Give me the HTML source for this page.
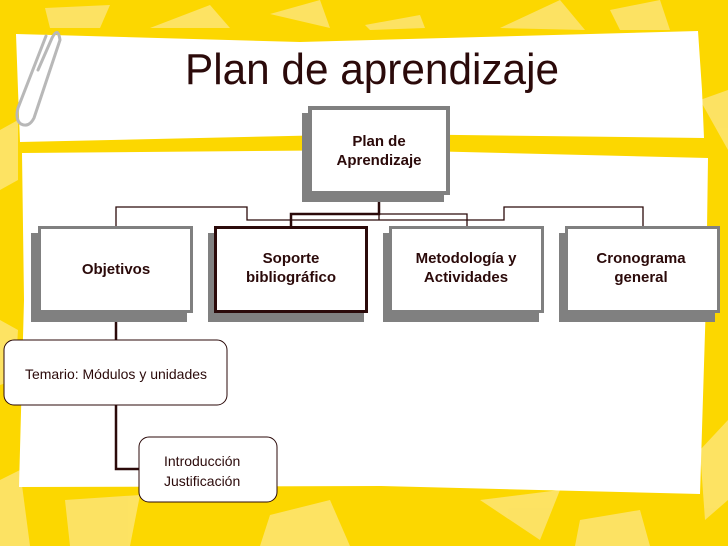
<!DOCTYPE html>
<html><head><meta charset="utf-8"><style>
html,body{margin:0;padding:0;width:728px;height:546px;overflow:hidden;background:#fcd800}
</style></head><body>
<svg width="728" height="546" viewBox="0 0 728 546" xmlns="http://www.w3.org/2000/svg" font-family="Liberation Sans, sans-serif">
<rect width="728" height="546" fill="#fcd700"/>
<g fill="#fde46e" opacity="0.9">
<polygon points="45,8 110,5 100,28 50,28"/>
<polygon points="150,28 210,5 230,28"/>
<polygon points="270,14 320,0 330,28"/>
<polygon points="365,25 420,15 425,28 370,30"/>
<polygon points="500,28 560,0 585,30"/>
<polygon points="610,10 660,0 670,30 620,30"/>
<polygon points="700,100 728,90 728,150"/>
<polygon points="0,130 18,120 18,180 0,190"/>
<polygon points="0,480 20,470 30,546 0,546"/>
<polygon points="65,500 140,495 130,546 70,546"/>
<polygon points="270,515 330,500 350,546 260,546"/>
<polygon points="480,500 560,490 540,540"/>
<polygon points="580,520 640,510 650,546 575,546"/>
<polygon points="700,450 728,420 728,500 705,520"/>
<polygon points="0,320 18,330 15,380 0,385"/>
</g>
<polygon points="16,34 300,42 698,31 702,90 704,138 380,134 20,142 18,90" fill="#fff"/>
<polygon points="22,153 380,150 708,158 706,300 700,494 380,486 19,487 24,300" fill="#fff"/>
<g fill="none" stroke="#b8b8b8" stroke-width="3" stroke-linecap="round">
<path d="M38,70 L52,38 Q58,26 60,40 L34,118 Q29,128 21,124 Q15,120 18,108 L46,36"/>
</g>
<text x="372" y="84" font-size="44" fill="#2b0a0a" text-anchor="middle" textLength="374" lengthAdjust="spacingAndGlyphs">Plan de aprendizaje</text>
<g fill="none" stroke="#2b0a0a" stroke-width="1.3">
<polyline points="116,226 116,207 247,207 247,220 504,220 504,207 643,207 643,226"/>
<polyline points="379,214 467,214 467,226"/>
<line x1="379" y1="214" x2="379" y2="220"/>
</g>
<g fill="none" stroke="#2b0a0a" stroke-width="2.5">
<polyline points="379,195 379,214 291,214 291,226"/>
<polyline points="116,308 116,340"/>
<polyline points="116,405 116,469 139,469"/>
</g>
<rect x="302" y="113" width="142" height="89" fill="#808080"/>
<rect x="308" y="106" width="142" height="89" fill="#808080"/>
<rect x="312" y="110" width="134" height="81" fill="#fff"/>
<g font-weight="bold" font-size="15" fill="#2b0a0a" text-anchor="middle">
<text x="379" y="146">Plan de</text>
<text x="379" y="165">Aprendizaje</text>
</g>
<g>
<rect x="31" y="233" width="156" height="89" fill="#808080"/>
<rect x="38" y="226" width="155" height="87" fill="#808080"/>
<rect x="41" y="229" width="149" height="81" fill="#fff"/>
<rect x="208" y="233" width="156" height="89" fill="#808080"/>
<rect x="214" y="226" width="154" height="87" fill="#2b0a0a"/>
<rect x="217" y="229" width="148" height="81" fill="#fff"/>
<rect x="383" y="233" width="156" height="89" fill="#808080"/>
<rect x="389" y="226" width="155" height="87" fill="#808080"/>
<rect x="392" y="229" width="149" height="81" fill="#fff"/>
<rect x="559" y="233" width="156" height="89" fill="#808080"/>
<rect x="565" y="226" width="155" height="87" fill="#808080"/>
<rect x="568" y="229" width="149" height="81" fill="#fff"/>
</g>
<g font-weight="bold" font-size="15" fill="#2b0a0a" text-anchor="middle">
<text x="116" y="274">Objetivos</text>
<text x="291" y="263">Soporte</text>
<text x="291" y="282">bibliográfico</text>
<text x="466" y="263">Metodología y</text>
<text x="466" y="282">Actividades</text>
<text x="641" y="263">Cronograma</text>
<text x="641" y="282">general</text>
</g>
<rect x="4" y="340" width="223" height="65" rx="10" fill="#fff" stroke="#2b0a0a" stroke-width="1"/>
<text x="116" y="379" font-size="14" fill="#2b0a0a" text-anchor="middle">Temario: Módulos y unidades</text>
<rect x="139" y="437" width="138" height="65" rx="10" fill="#fff" stroke="#2b0a0a" stroke-width="1"/>
<g font-size="14" fill="#2b0a0a">
<text x="164" y="466">Introducción</text>
<text x="164" y="486">Justificación</text>
</g>
</svg>
</body></html>
